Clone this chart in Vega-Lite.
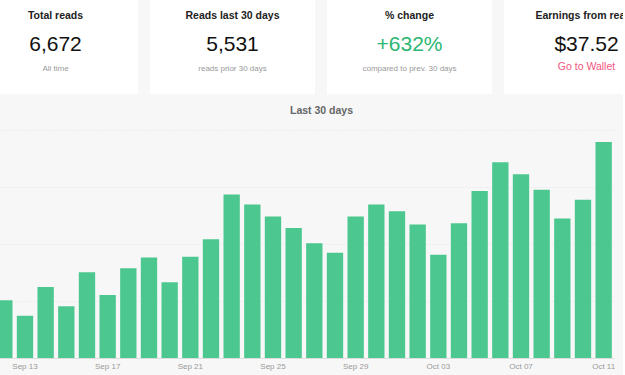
{
  "$schema": "https://vega.github.io/schema/vega-lite/v6.json",
  "background": "#f7f7f7",
  "padding": {"left": -27, "top": -6, "right": -46, "bottom": 5},
  "config": {
    "font": "Liberation Sans",
    "view": {"stroke": null}
  },
  "spacing": 11,
  "vconcat": [
    {
      "spacing": 12,
      "hconcat": [
        {
          "width": 165, "height": 100,
          "view": {"fill": "white", "stroke": null},
          "data": {"values": [{"title": "Total reads", "value": "6,672", "note": "All time"}]},
          "layer": [
            {"mark": {"type": "text", "dy": -28, "fontSize": 10.5, "fontWeight": "bold", "color": "#222"}, "encoding": {"text": {"field": "title"}}},
            {"mark": {"type": "text", "dy": 1, "fontSize": 21, "color": "#111"}, "encoding": {"text": {"field": "value"}}},
            {"mark": {"type": "text", "dy": 25, "fontSize": 8, "color": "#999"}, "encoding": {"text": {"field": "note"}}}
          ]
        },
        {
          "width": 165, "height": 100,
          "view": {"fill": "white", "stroke": null},
          "data": {"values": [{"title": "Reads last 30 days", "value": "5,531", "note": "reads prior 30 days"}]},
          "layer": [
            {"mark": {"type": "text", "dy": -28, "fontSize": 10.5, "fontWeight": "bold", "color": "#222"}, "encoding": {"text": {"field": "title"}}},
            {"mark": {"type": "text", "dy": 1, "fontSize": 21, "color": "#111"}, "encoding": {"text": {"field": "value"}}},
            {"mark": {"type": "text", "dy": 25, "fontSize": 8, "color": "#999"}, "encoding": {"text": {"field": "note"}}}
          ]
        },
        {
          "width": 165, "height": 100,
          "view": {"fill": "white", "stroke": null},
          "data": {"values": [{"title": "% change", "value": "+632%", "note": "compared to prev. 30 days"}]},
          "layer": [
            {"mark": {"type": "text", "dy": -28, "fontSize": 10.5, "fontWeight": "bold", "color": "#222"}, "encoding": {"text": {"field": "title"}}},
            {"mark": {"type": "text", "dy": 1, "fontSize": 21, "color": "#2bb673"}, "encoding": {"text": {"field": "value"}}},
            {"mark": {"type": "text", "dy": 25, "fontSize": 8, "color": "#999"}, "encoding": {"text": {"field": "note"}}}
          ]
        },
        {
          "width": 165, "height": 100,
          "view": {"fill": "white", "stroke": null},
          "data": {"values": [{"title": "Earnings from reads", "value": "$37.52", "note": "Go to Wallet"}]},
          "layer": [
            {"mark": {"type": "text", "dy": -28, "fontSize": 10.5, "fontWeight": "bold", "color": "#222"}, "encoding": {"text": {"field": "title"}}},
            {"mark": {"type": "text", "dy": 1, "fontSize": 21, "color": "#111"}, "encoding": {"text": {"field": "value"}}},
            {"mark": {"type": "text", "dy": 23, "fontSize": 10.5, "color": "#f2557f"}, "encoding": {"text": {"field": "note"}}}
          ]
        }
      ]
    },
    {
      "width": 641,
      "height": 228,
      "title": {"text": "Last 30 days", "fontSize": 10.5, "fontWeight": "bold", "color": "#666", "anchor": "middle", "dx": 28, "offset": 4, "baseline": "bottom"},
      "data": {"values": [
        {"day": "Sep 12", "reads": 86},
        {"day": "Sep 13", "reads": 63},
        {"day": "Sep 14", "reads": 106},
        {"day": "Sep 15", "reads": 77},
        {"day": "Sep 16", "reads": 128},
        {"day": "Sep 17", "reads": 94},
        {"day": "Sep 18", "reads": 134},
        {"day": "Sep 19", "reads": 150},
        {"day": "Sep 20", "reads": 113},
        {"day": "Sep 21", "reads": 151},
        {"day": "Sep 22", "reads": 177},
        {"day": "Sep 23", "reads": 244},
        {"day": "Sep 24", "reads": 229},
        {"day": "Sep 25", "reads": 211},
        {"day": "Sep 26", "reads": 194},
        {"day": "Sep 27", "reads": 171},
        {"day": "Sep 28", "reads": 157},
        {"day": "Sep 29", "reads": 211},
        {"day": "Sep 30", "reads": 229},
        {"day": "Oct 01", "reads": 219},
        {"day": "Oct 02", "reads": 199},
        {"day": "Oct 03", "reads": 154},
        {"day": "Oct 04", "reads": 201},
        {"day": "Oct 05", "reads": 249},
        {"day": "Oct 06", "reads": 292},
        {"day": "Oct 07", "reads": 274},
        {"day": "Oct 08", "reads": 251},
        {"day": "Oct 09", "reads": 208},
        {"day": "Oct 10", "reads": 236},
        {"day": "Oct 11", "reads": 322}
      ]},
      "mark": {"type": "bar", "color": "#4cc78f"},
      "encoding": {
        "x": {
          "field": "day", "type": "ordinal", "sort": null,
          "scale": {"paddingInner": 0.21, "paddingOuter": 0.613, "align": 0.914},
          "axis": {
            "title": null, "labelAngle": 0, "ticks": false, "grid": false,
            "values": ["Sep 13", "Sep 17", "Sep 21", "Sep 25", "Sep 29", "Oct 03", "Oct 07", "Oct 11"],
            "domainColor": "#dddddd", "labelColor": "#999999", "labelFontSize": 8, "labelPadding": 4
          }
        },
        "y": {
          "field": "reads", "type": "quantitative",
          "scale": {"domain": [0, 340], "nice": false},
          "axis": {
            "title": null, "labels": false, "ticks": false, "domain": false,
            "values": [85, 170, 255, 340],
            "gridColor": "#e2e2e2", "gridDash": [1, 2],
            "minExtent": 0, "maxExtent": 0
          }
        }
      }
    }
  ]
}
